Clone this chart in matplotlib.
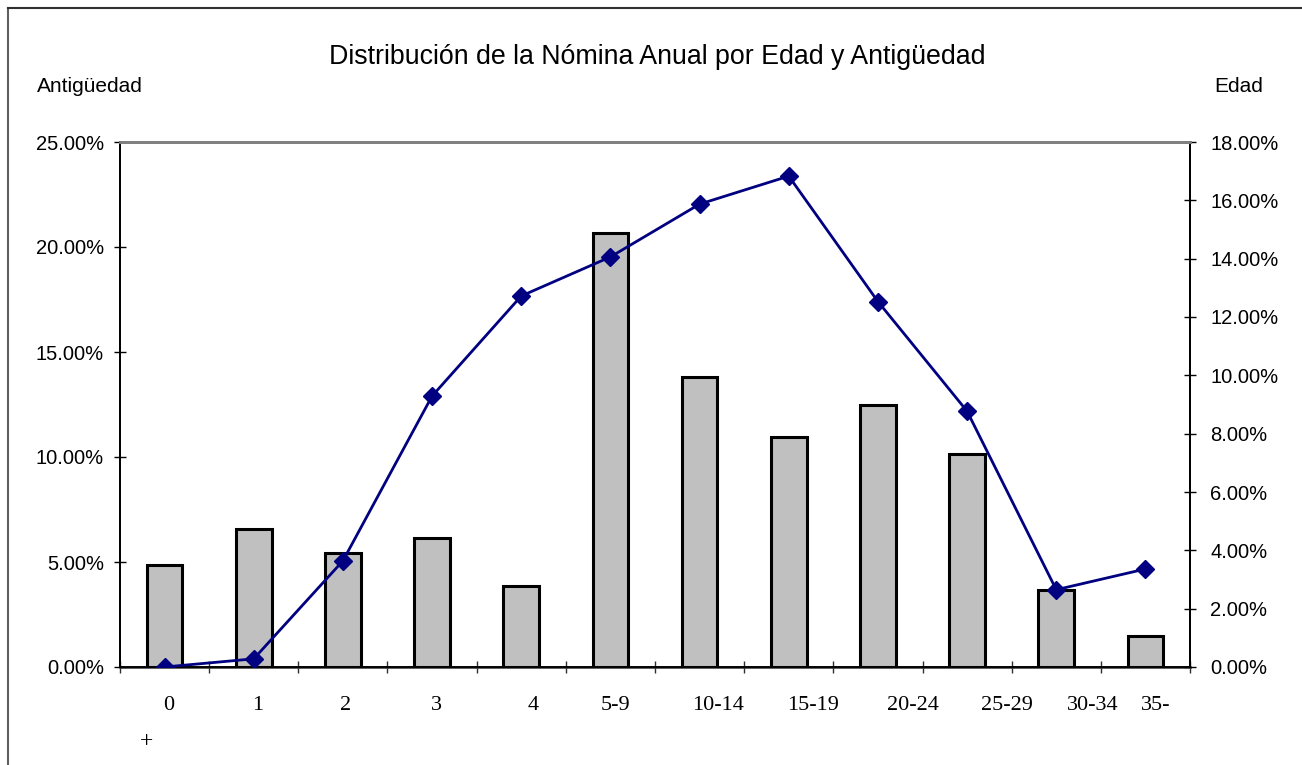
import matplotlib
matplotlib.use("Agg")
import matplotlib.pyplot as plt
from matplotlib.lines import Line2D
import numpy as np

# ---- data ----
categories = ['0', '1', '2', '3', '4', '5-9', '10-14', '15-19', '20-24', '25-29', '30-34', '35-+']
antiguedad = [4.85, 6.55, 5.41, 6.13, 3.86, 20.67, 13.80, 10.97, 12.46, 10.14, 3.69, 1.48]   # bars, left axis (%)
edad = [0.0, 0.28, 3.64, 9.29, 12.72, 14.06, 15.87, 16.83, 12.53, 8.77, 2.65, 3.36]           # line, right axis (%)
left_ticks = [0, 5, 10, 15, 20, 25]
right_ticks = [0, 2, 4, 6, 8, 10, 12, 14, 16, 18]
title = 'Distribución de la Nómina Anual por Edad y Antigüedad'
left_label = 'Antigüedad'
right_label = 'Edad'

# label horizontal offsets in pixels (reproduce reference's label placement)
label_dx = [4, 4, 3, 4, 12, 5, 18, 24, 35, 40, 37, 10]

W, H, DPI = 1302, 765, 100
fig = plt.figure(figsize=(W / DPI, H / DPI), dpi=DPI)
fig.patch.set_facecolor('white')

L, R, T, B = 120, 1190, 142, 667
ax = fig.add_axes([L / W, (H - B) / H, (R - L) / W, (B - T) / H])
ax2 = ax.twinx()

x = np.arange(len(categories))
ax.bar(x, antiguedad, width=0.40, color='#C0C0C0', edgecolor='black', linewidth=2.2, zorder=2)
ax.set_xlim(-0.5, len(categories) - 0.5)
ax.set_ylim(0, 25)
ax.set_yticks(left_ticks)
ax.set_yticklabels([f'{v:.2f}%' for v in left_ticks])

ax2.plot(x, edad, color='#000080', linewidth=2.0, marker='D', markersize=9,
         markerfacecolor='#000080', markeredgecolor='#000080', zorder=3)
ax2.set_ylim(0, 18)
ax2.set_yticks(right_ticks)
ax2.set_yticklabels([f'{v:.2f}%' for v in right_ticks])

ax.set_xticks(np.arange(-0.5, len(categories), 1.0))
ax.set_xticklabels([])
ax.tick_params(axis='x', direction='inout', length=9, width=1.0, color='#303030')
for a in (ax, ax2):
    for lab in a.get_yticklabels():
        lab.set_fontfamily('Liberation Sans')
        lab.set_fontsize(14.5)
ax.tick_params(axis='y', direction='inout', length=9, width=1.0, pad=7)
ax2.tick_params(axis='y', direction='inout', length=9, width=1.0, pad=10)

for a in (ax, ax2):
    a.spines['top'].set_color('#808080')
    a.spines['top'].set_linewidth(2.0)
    for s in ('left', 'right', 'bottom'):
        a.spines[s].set_color('black')
        a.spines[s].set_linewidth(1.3)
ax.spines['bottom'].set_color('#303030')
ax.spines['bottom'].set_linewidth(1.8)

# category labels (serif, placed as in reference)
px2pt = 72.0 / DPI
for i, cat in enumerate(categories):
    txt = cat
    if cat.endswith('+'):
        txt = cat[:-1]
        ax.annotate('+', xy=(0, 0), xycoords=('data', 'axes fraction'),
                    xytext=(-18 * px2pt, -75 * px2pt), textcoords='offset points',
                    ha='center', va='center', fontsize=17, family='Liberation Serif')
    ax.annotate(txt, xy=(i, 0), xycoords=('data', 'axes fraction'),
                xytext=(label_dx[i] * px2pt, -38 * px2pt), textcoords='offset points',
                ha='center', va='center', fontsize=16, family='Liberation Serif')

fig.text(657 / W, 1 - 57 / H, title, ha='center', va='center', fontsize=19.3, family='Liberation Sans')
fig.text(37 / W, 1 - 87 / H, left_label, ha='left', va='center', fontsize=15, family='Liberation Sans')
fig.text(1263 / W, 1 - 87 / H, right_label, ha='right', va='center', fontsize=15, family='Liberation Sans')

# outer chart border (left and top visible)
fig.add_artist(Line2D([7.5 / W, 7.5 / W], [0, 1 - 8 / H], transform=fig.transFigure, color='#606060', lw=1.5))
fig.add_artist(Line2D([7.5 / W, 1], [1 - 8 / H, 1 - 8 / H], transform=fig.transFigure, color='#303030', lw=1.5))

fig.savefig('out.png', dpi=DPI, facecolor='white')
